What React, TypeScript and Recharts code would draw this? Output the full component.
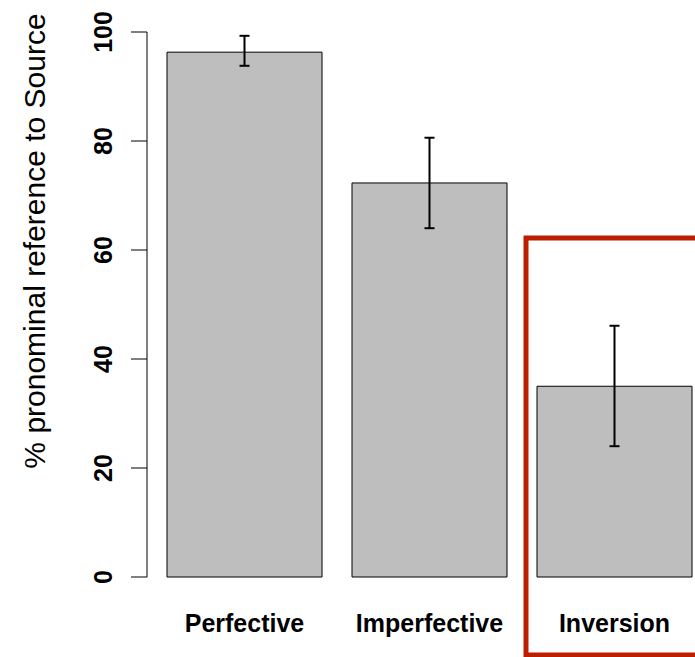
import { Bar, BarChart, ErrorBar, ReferenceArea, XAxis, YAxis } from "recharts";

const categories = ["Perfective", "Imperfective", "Inversion"];
const values = [96.3, 72.3, 35.0];
const lower = [93.8, 64.0, 24.0];
const upper = [99.3, 80.6, 46.1];
const yTicks = [0, 20, 40, 60, 80, 100];

// highlight box around the third bar (hidden numeric x axis, 0..3.6 = full band range)
const boxX1 = 2.426;
const boxX2 = 3.8;
const boxY1 = -14.3;
const boxY2 = 62.2;

const FONT = "'Liberation Sans', Arial, Helvetica, sans-serif";

const data = categories.map((name, i) => ({
  name,
  value: values[i],
  err: [values[i] - lower[i], upper[i] - values[i]],
}));

function YTick(props: any) {
  const { x, y, payload } = props;
  return (
    <text
      x={x}
      y={y}
      transform={`rotate(-90, ${x}, ${y})`}
      textAnchor="middle"
      fontFamily={FONT}
      fontWeight="bold"
      fontSize={25}
      fill="#000"
    >
      {payload.value}
    </text>
  );
}

function XTick(props: any) {
  const { x, payload } = props;
  return (
    <text x={x} y={632} textAnchor="middle" fontFamily={FONT} fontWeight="bold" fontSize={25} fill="#000">
      {payload.value}
    </text>
  );
}

function YLabel() {
  return (
    <text
      x={45}
      y={241}
      transform="rotate(-90, 45, 241)"
      textAnchor="middle"
      fontFamily={FONT}
      fontSize={30}
      fill="#000"
    >
      % pronominal reference to Source
    </text>
  );
}

export default function App() {
  return (
    <div
      style={{
        position: "absolute",
        left: 0,
        top: 0,
        width: 695,
        height: 657,
        overflow: "hidden",
        background: "#fff",
      }}
    >
      <BarChart
        width={720}
        height={657}
        data={data}
        margin={{ top: 32, right: 13, bottom: 0, left: 0 }}
      >
        <XAxis
          dataKey="name"
          axisLine={false}
          tickLine={false}
          height={80}
          interval={0}
          padding={{ left: 5, right: 0 }}
          tick={<XTick />}
        />
        <XAxis
          xAxisId="box"
          type="number"
          scale="linear"
          dataKey="value"
          domain={[0, 3.6]}
          hide
          allowDataOverflow
          padding={{ left: 5, right: 0 }}
        />
        <YAxis
          domain={[0, 100]}
          ticks={yTicks}
          width={147}
          tickSize={16}
          tickMargin={19}
          axisLine={{ stroke: "#000", strokeWidth: 1 }}
          tickLine={{ stroke: "#000", strokeWidth: 1 }}
          tick={<YTick />}
          label={<YLabel />}
        />
        <Bar dataKey="value" fill="#bebebe" stroke="#000" strokeWidth={1} barSize={155} isAnimationActive={false}>
          <ErrorBar dataKey="err" width={5} stroke="#000" strokeWidth={2} />
        </Bar>
        <ReferenceArea
          xAxisId="box"
          x1={boxX1}
          x2={boxX2}
          y1={boxY1}
          y2={boxY2}
          ifOverflow="visible"
          fill="none"
          fillOpacity={0}
          stroke="#bd1e00"
          strokeWidth={5}
        />
      </BarChart>
    </div>
  );
}
